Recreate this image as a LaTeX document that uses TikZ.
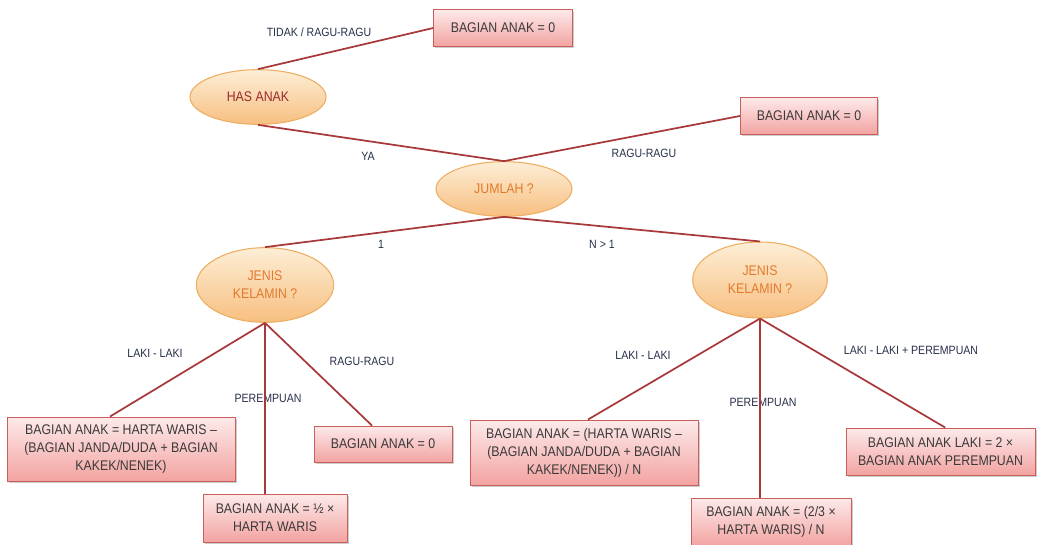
\documentclass[tikz,border=0pt]{standalone}
\usepackage{fontspec}
\setmainfont{Liberation Sans}[FakeStretch=0.88]
\usetikzlibrary{shapes.geometric,shadows,calc}

\definecolor{linkred}{HTML}{A8393B}
\definecolor{ellTop}{HTML}{FDEED6}
\definecolor{ellBot}{HTML}{F7BF80}
\definecolor{ellLine}{HTML}{EDAE62}
\definecolor{boxTop}{HTML}{FDEAEA}
\definecolor{boxBot}{HTML}{F2A3A1}
\definecolor{boxLine}{HTML}{C95F5B}
\definecolor{boxText}{HTML}{3A3A3A}
\definecolor{lblText}{HTML}{27304A}
\definecolor{hasText}{HTML}{9A2B2E}
\definecolor{askText}{HTML}{E27A2C}

\tikzset{
  decision/.style={ellipse, draw=ellLine, line width=0.8pt,
    top color=ellTop, bottom color=ellBot, inner sep=0pt, align=center,
    font=\fontsize{10.5}{13.5}\selectfont, text=askText},
  outcome/.style={rectangle, draw=boxLine, line width=0.7pt,
    top color=boxTop, bottom color=boxBot, inner sep=0pt, align=center,
    font=\fontsize{10.5}{13.5}\selectfont, text=boxText,
    drop shadow={shadow xshift=1.3pt, shadow yshift=-1.3pt, opacity=0.35, fill=black!55}},
  branch/.style={font=\fontsize{9}{11}\selectfont, text=lblText, inner sep=0pt},
  link/.style={draw=linkred, line width=1.3pt}
}

\begin{document}
\begin{tikzpicture}[x=0.75pt,y=-0.75pt]
\useasboundingbox (0,0) rectangle (1038,544);

% question nodes
\node[decision, text=hasText, minimum width=102pt, minimum height=41pt] (has) at (258,97) {HAS ANAK};
\node[decision, minimum width=102pt, minimum height=41pt] (jum) at (504,189) {JUMLAH ?};
\node[decision, minimum width=103pt, minimum height=56pt] (jk1) at (265,285) {JENIS\\KELAMIN ?};
\node[decision, minimum width=101pt, minimum height=57pt] (jk2) at (760,280) {JENIS\\KELAMIN ?};

% outcome boxes
\node[outcome, minimum width=104pt, minimum height=27.75pt] (b0) at (503,28) {BAGIAN ANAK = 0};
\node[outcome, minimum width=103pt, minimum height=27.75pt] (b1) at (809,116) {BAGIAN ANAK = 0};
\node[outcome, minimum width=171pt, minimum height=48pt] (b2) at (121,449)
  {BAGIAN ANAK = HARTA WARIS –\\(BAGIAN JANDA/DUDA + BAGIAN\\KAKEK/NENEK)};
\node[outcome, minimum width=108pt, minimum height=36pt] (b3) at (275,518)
  {BAGIAN ANAK = ½ ×\\HARTA WARIS};
\node[outcome, minimum width=103.5pt, minimum height=27pt] (b4) at (383,444) {BAGIAN ANAK = 0};
\node[outcome, minimum width=171pt, minimum height=48.75pt] (b5) at (584,452.5)
  {BAGIAN ANAK = (HARTA WARIS –\\(BAGIAN JANDA/DUDA + BAGIAN\\KAKEK/NENEK)) / N};
\node[outcome, minimum width=120pt, minimum height=36pt] (b6) at (771,522)
  {BAGIAN ANAK = (2/3 ×\\HARTA WARIS) / N};
\node[outcome, minimum width=141.75pt, minimum height=35.25pt] (b7) at (940.5,451.5)
  {BAGIAN ANAK LAKI = 2 ×\\BAGIAN ANAK PEREMPUAN};

% branch labels
\node[branch] (lTidak) at (319,32) {TIDAK / RAGU-RAGU};
\node[branch] (lYa) at (368,156) {YA};
\node[branch] (lRagu1) at (644,153) {RAGU-RAGU};
\node[branch] (lSatu) at (381,244) {1};
\node[branch] (lBanyak) at (602,244) {N > 1};
\node[branch] (lLaki1) at (155,353) {LAKI - LAKI};
\node[branch] (lPr1) at (268,398) {PEREMPUAN};
\node[branch] (lRagu2) at (362,361) {RAGU-RAGU};
\node[branch] (lLaki2) at (643,355) {LAKI - LAKI};
\node[branch] (lPr2) at (763,402) {PEREMPUAN};
\node[branch] (lCampur) at (911,350) {LAKI - LAKI + PEREMPUAN};

% connectors
\draw[link] (has.north) -- (b0.west);
\draw[link] (has.south) -- (jum.north);
\draw[link] (jum.north) -- (b1.west);
\draw[link] (jum.south) -- (jk1.north);
\draw[link] (jum.south) -- (jk2.north);
\draw[link] (jk1.south) -- ([xshift=-8.25pt]b2.north);
\draw[link] (jk1.south) -- (jk1.south |- b3.north);
\draw[link] (jk1.south) -- ([xshift=-8.25pt]b4.north);
\draw[link] (jk2.south) -- ([xshift=3pt]b5.north);
\draw[link] (jk2.south) -- (jk2.south |- b6.north);
\draw[link] (jk2.south) -- ([xshift=3.5pt]b7.north);
\end{tikzpicture}
\end{document}
